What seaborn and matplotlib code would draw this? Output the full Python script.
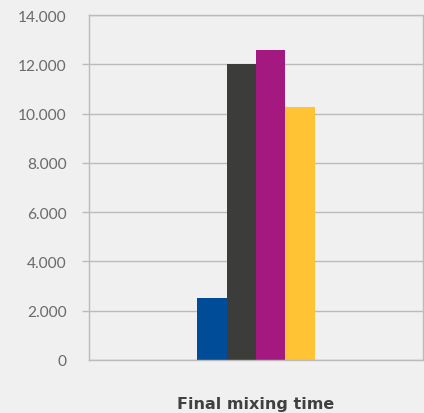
import matplotlib
matplotlib.use("Agg")
import matplotlib.pyplot as plt
import matplotlib.ticker as mticker
import pandas as pd
import seaborn as sns

# Final mixing time per mixer
category = ["Final mixing time"]
series = ["Mixer A", "Mixer B", "Mixer C", "Mixer D"]
values = [2500, 12000, 12600, 10250]
colors = ["#004C99", "#3C3C3A", "#A3197F", "#FFC333"]

yticks = [0, 2000, 4000, 6000, 8000, 10000, 12000, 14000]

df = pd.DataFrame({
    "category": category * len(series),
    "series": series,
    "value": values,
})

sns.set_theme(style="white")
plt.rcParams["font.family"] = ["DejaVu Sans"]

bg = "#F0F0F0"
grid = "#BBBBBB"

fig = plt.figure(figsize=(4.24, 4.14), dpi=100, facecolor=bg)
ax = fig.add_axes([89 / 424, 53 / 414, 334 / 424, 345 / 414])
ax.set_facecolor(bg)

sns.barplot(data=df, x="category", y="value", hue="series",
            palette=colors, width=0.353, saturation=1, linewidth=0,
            legend=False, ax=ax)

ax.set_xlim(-0.5, 0.5)
ax.set_ylim(0, 14000)
ax.set_yticks(yticks)
ax.yaxis.set_major_formatter(
    mticker.FuncFormatter(lambda v, p: f"{int(v):,}".replace(",", ".")))
ax.yaxis.grid(True, color=grid, linewidth=1.0)
ax.set_axisbelow(True)

for s in ax.spines.values():
    s.set_visible(True)
    s.set_color(grid)
    s.set_linewidth(1.0)

ax.tick_params(axis="y", length=5, width=1.0, color=grid, pad=11,
               labelsize=11.2, labelcolor="#6A6A6A", left=True)
for lab in ax.get_yticklabels():
    lab.set_family(["Lato", "DejaVu Sans"])
# no stubs on the frame edges (top and bottom ticks)
ticks = ax.yaxis.get_major_ticks()
for t in (ticks[0], ticks[-1]):
    t.tick1line.set_visible(False)

ax.tick_params(axis="x", length=0, pad=26, labelsize=11.5,
               labelcolor="#404040")
for lab in ax.get_xticklabels():
    lab.set_fontweight("bold")
ax.set_xlabel("")
ax.set_ylabel("")

fig.savefig("out.png", dpi=100, facecolor=bg)
